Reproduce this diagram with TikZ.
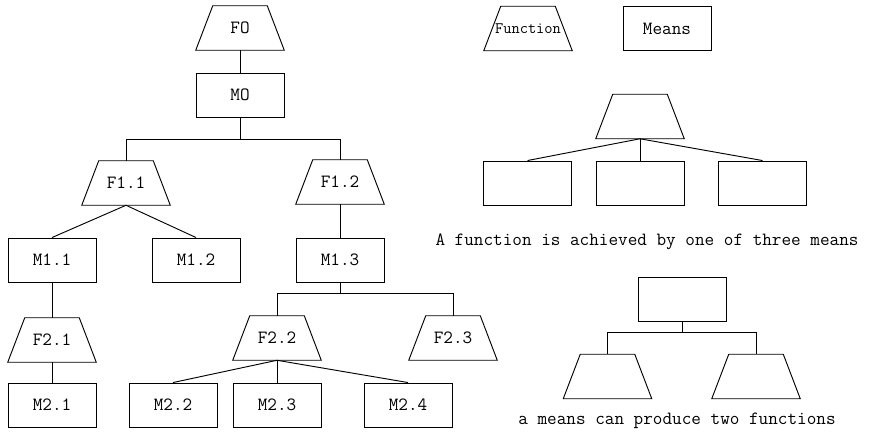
\documentclass[tikz,border=0pt]{standalone}
\usepackage{tikz}
\usetikzlibrary{positioning}

\begin{document}
\begin{tikzpicture}[
    x=0.75pt, y=-0.75pt,
    meanstyle/.style={rectangle, minimum width=66pt, minimum height=33pt,
                      inner sep=1pt, draw, line width=0.7pt},
    % box of the same size, outlined as a trapezoid narrowed at the top
    funcstyle/.style={rectangle, minimum width=66pt, minimum height=33pt,
                      inner sep=1pt,
                      append after command={\pgfextra{
                        \draw[line width=0.7pt]
                          (\tikzlastnode.south west) -- (\tikzlastnode.south east)
                          -- ([xshift=-12.75pt]\tikzlastnode.north east)
                          -- ([xshift=12.75pt]\tikzlastnode.north west) -- cycle;}}},
    link/.style={line width=0.7pt},
    every node/.style={font=\fontsize{14}{16}\selectfont\ttfamily}
  ]
    \useasboundingbox (0,0) rectangle (884,433);

    % Top of the tree
    \node[funcstyle] (f0) at (240,28) {FO};
    \node[meanstyle] (m0) at (240,95) {MO};
    \draw[link] (f0.south) -- (m0.north);

    % First level functions
    \node[funcstyle] (f11) at (126,183) {F1.1};
    \node[funcstyle] (f12) at (340,182) {F1.2};
    \draw[link] (m0.south) -- ++(0,22) coordinate (bus0);
    \draw[link] (f11.north) |- (bus0) -| (f12.north);

    % Means of F1.1 and F1.2
    \node[meanstyle] (m11) at (52,260)  {M1.1};
    \node[meanstyle] (m12) at (196,260) {M1.2};
    \node[meanstyle] (m13) at (340,260) {M1.3};
    \draw[link] (f11.south) -- (m11.north);
    \draw[link] (f11.south) -- (m12.north);
    \draw[link] (f12.south) -- (m13.north);

    % Second level functions
    \node[funcstyle] (f21) at (52,340)  {F2.1};
    \node[funcstyle] (f22) at (277,338) {F2.2};
    \node[funcstyle] (f23) at (453,338) {F2.3};
    \draw[link] (m11.south) -- (f21.north);
    \draw[link] (m13.south) -- ++(0,11) coordinate (bus1);
    \draw[link] (f22.north) |- (bus1) -| (f23.north);

    % Bottom means
    \node[meanstyle] (m21) at (52,405)  {M2.1};
    \node[meanstyle] (m22) at (173,405) {M2.2};
    \node[meanstyle] (m23) at (277,405) {M2.3};
    \node[meanstyle] (m24) at (408,405) {M2.4};
    \draw[link] (f21.south) -- (m21.north);
    \draw[link] (f22.south) -- (m22.north);
    \draw[link] (f22.south) -- (m23.north);
    \draw[link] (f22.south) -- (m24.north);

    % Legend
    \node[funcstyle] (legf) at (528,28.5)
      {\makebox[0pt]{\fontsize{12}{14}\selectfont Function}};
    \node[meanstyle] (legm) at (667,28.5) {Means};

    % One function, three means
    \node[funcstyle] (exf) at (640,116.5) {};
    \node[meanstyle] (exm1) at (527.5,183) {};
    \node[meanstyle] (exm2) at (640,183) {};
    \node[meanstyle] (exm3) at (762.5,183) {};
    \draw[link] (exf.south) -- (exm1.north);
    \draw[link] (exf.south) -- (exm2.north);
    \draw[link] (exf.south) -- (exm3.north);
    \node (capa) at (647,242) {A function is achieved by one of three means};

    % One means, two functions
    \node[meanstyle] (exm) at (682,299.5) {};
    \node[funcstyle] (exf1) at (607.5,376.5) {};
    \node[funcstyle] (exf2) at (756,376.5) {};
    \draw[link] (exm.south) -- ++(0,10) coordinate (bus2);
    \draw[link] (exf1.north) |- (bus2) -| (exf2.north);
    \node (capb) at (677,421) {a means can produce two functions};
  \end{tikzpicture}
\end{document}
